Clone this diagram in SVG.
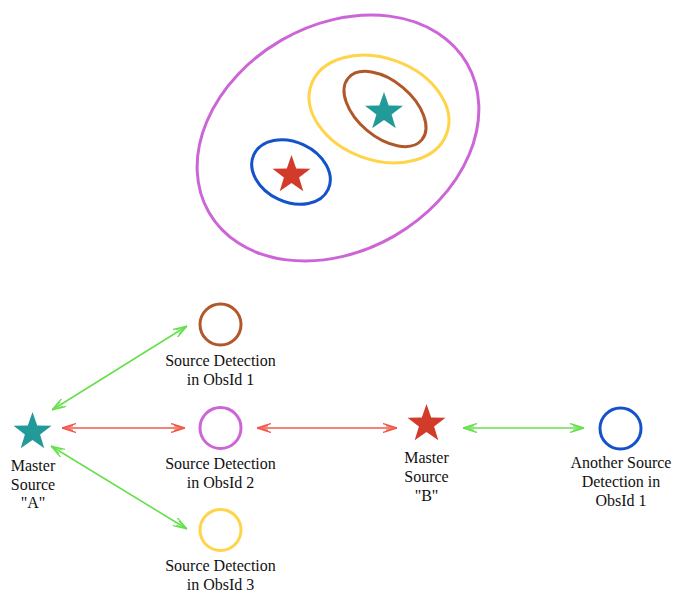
<svg xmlns="http://www.w3.org/2000/svg" width="673" height="590" viewBox="0 0 673 590">
<style>
  text { font-family: "Liberation Serif", "Times New Roman", serif; font-size: 16px; fill: #111; text-anchor: middle; }
  .ell { fill: none; stroke-width: 3; }
  .det { fill: none; stroke-width: 3; }
  .green { stroke: #66e04c; stroke-width: 1.6; fill: none; }
  .red { stroke: #f05a48; stroke-width: 1.6; fill: none; }
</style>
<defs>
  <marker id="ag" markerUnits="userSpaceOnUse" viewBox="0 0 14 10" refX="14" refY="5" markerWidth="14" markerHeight="10" orient="auto-start-reverse">
    <path d="M0,0.5 L14,5 L0,9.5 M3,2.5 L14,5 L3,7.5" fill="none" stroke="#66e04c" stroke-width="1.3"/>
  </marker>
  <marker id="ar" markerUnits="userSpaceOnUse" viewBox="0 0 14 10" refX="14" refY="5" markerWidth="14" markerHeight="10" orient="auto-start-reverse">
    <path d="M0,0.5 L14,5 L0,9.5 M3,2.5 L14,5 L3,7.5" fill="none" stroke="#f05a48" stroke-width="1.3"/>
  </marker>
  <polygon id="star" points="0,-20 4.7,-6.5 19,-6.2 7.6,2.5 11.8,16.2 0,8 -11.8,16.2 -7.6,2.5 -19,-6.2 -4.7,-6.5"/>
</defs>

<g id="sky">
  <ellipse class="ell" cx="338" cy="138" rx="149" ry="113" transform="rotate(-30 338 138)" stroke="#cc66d6"/>
  <ellipse class="ell" cx="379" cy="109" rx="72" ry="51" transform="rotate(20 379 109)" stroke="#ffd448"/>
  <ellipse class="ell" cx="385" cy="109" rx="48" ry="28" transform="rotate(40 385 109)" stroke="#b0582a"/>
  <ellipse class="ell" cx="291" cy="172" rx="41" ry="30" transform="rotate(25 291 172)" stroke="#1452cc"/>
  <use href="#star" x="384" y="112" fill="#229a9a"/>
  <use href="#star" x="291.5" y="175" fill="#d23a2a"/>
</g>

<g id="connectors">
  <line class="green" x1="52" y1="410" x2="187" y2="326" marker-start="url(#ag)" marker-end="url(#ag)"/>
  <line class="red" x1="62" y1="428" x2="185" y2="428" marker-start="url(#ar)" marker-end="url(#ar)"/>
  <line class="green" x1="51" y1="446" x2="187" y2="529" marker-start="url(#ag)" marker-end="url(#ag)"/>
  <line class="red" x1="257" y1="428" x2="397" y2="428" marker-start="url(#ar)" marker-end="url(#ar)"/>
  <line class="green" x1="463" y1="428" x2="584" y2="428" marker-start="url(#ag)" marker-end="url(#ag)"/>
</g>

<g id="masterA">
  <use href="#star" x="32.5" y="432" fill="#229a9a"/>
  <text x="33" y="471">Master</text>
  <text x="33" y="490">Source</text>
  <text x="33" y="508">"A"</text>
</g>

<g id="det1">
  <circle class="det" cx="220.5" cy="324.5" r="20.5" stroke="#b0582a"/>
  <text x="220.5" y="366">Source Detection</text>
  <text x="220.5" y="385">in ObsId 1</text>
</g>

<g id="det2">
  <circle class="det" cx="220.5" cy="428" r="20.5" stroke="#cc66d6"/>
  <text x="220.5" y="469">Source Detection</text>
  <text x="220.5" y="488">in ObsId 2</text>
</g>

<g id="det3">
  <circle class="det" cx="220.5" cy="530" r="20.5" stroke="#ffd448"/>
  <text x="220.5" y="571">Source Detection</text>
  <text x="220.5" y="590">in ObsId 3</text>
</g>

<g id="masterB">
  <use href="#star" x="426.5" y="424" fill="#d23a2a"/>
  <text x="426.5" y="463">Master</text>
  <text x="426.5" y="482">Source</text>
  <text x="426.5" y="501">"B"</text>
</g>

<g id="det4">
  <circle class="det" cx="620.5" cy="428.5" r="20.5" stroke="#1452cc"/>
  <text x="621" y="468">Another Source</text>
  <text x="621" y="487">Detection in</text>
  <text x="621" y="506">ObsId 1</text>
</g>
</svg>
